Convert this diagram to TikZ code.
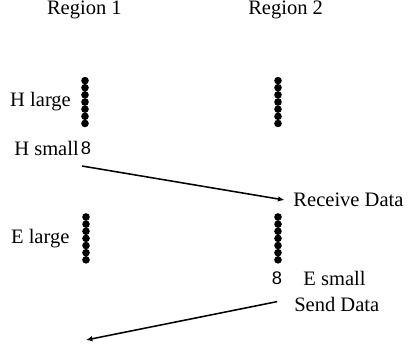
\documentclass[tikz,border=0pt]{standalone}
\usepackage{fontspec}
\setmainfont{Liberation Serif}
\setsansfont{Liberation Sans}
\usepackage{tikz}
\usetikzlibrary{
    positioning,
    arrows.meta,
    calc,
}
\tikzset{
    % Text styles
    txt/.style={font=\fontsize{14.6}{16}\selectfont, inner sep=0pt},
    eight/.style={font=\fontsize{13}{14}\selectfont\sffamily, inner sep=0pt},
    % Column of dots
    dotcol/.style={rectangle, minimum width=0.24cm, minimum height=1.25cm, inner sep=0pt,
                   path picture={
                       \foreach \k in {0,...,6}
                           \fill ($(path picture bounding box.north)!{(\k+0.5)/7}!(path picture bounding box.south)$) circle (0.095cm);
                   }},
    % Arrow styles
    arrow/.style={-{Latex[length=1.6mm, width=1.4mm]}, line width=1.1pt},
}

\begin{document}
\begin{tikzpicture}
    \useasboundingbox (0, 0) rectangle (10.25, -8.65);

    % Region titles
    \node[txt] (reg1) at (2.11, -0.25) {Region 1};
    \node[txt] (reg2) at (7.14, -0.25) {Region 2};

    % Region 1
    \node[dotcol] (hlarge) at (2.125, -2.55) {};
    \node[txt, left=0.22cm of hlarge] (hlargetxt) {H large};
    \node[eight] (hsmall) at (2.15, -3.7) {8};
    \node[txt, left=0.04cm of hsmall] (hsmalltxt) {H small};
    \node[dotcol] (elarge) at (2.15, -5.96) {};
    \node[txt, left=0.28cm of elarge] (elargetxt) {E large};

    % Region 2
    \node[dotcol] (hlarge2) at (6.95, -2.55) {};
    \node[txt, anchor=west] (recv) at (7.33, -5.0) {Receive Data};
    \node[dotcol] (elarge2) at (6.95, -5.96) {};
    \node[eight] (esmall) at (6.925, -6.95) {8};
    \node[txt, anchor=west] (esmalltxt) at (7.58, -6.97) {E small};
    \node[txt, anchor=west] (send) at (7.35, -7.62) {Send Data};

    % Free ends
    \coordinate (hstart) at (2.05, -4.15);
    \coordinate (sendend) at (2.15, -8.5);

    % Arrows
    \draw[arrow] (hstart) -- ([xshift=-0.22cm]recv.west);
    \draw[arrow] ([xshift=-0.42cm, yshift=0.08cm]send.west) -- (sendend);
\end{tikzpicture}
\end{document}
